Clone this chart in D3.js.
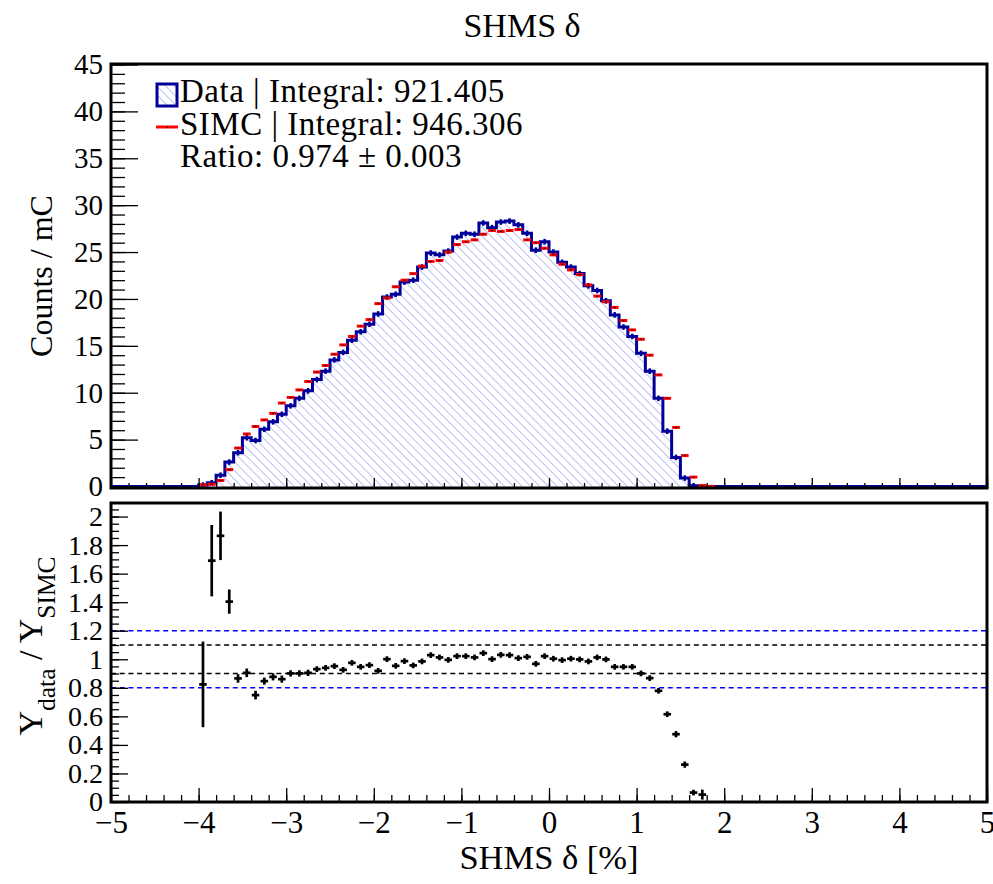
<!DOCTYPE html>
<html>
<head>
<meta charset="utf-8">
<script src="https://cdn.jsdelivr.net/npm/d3@7"></script>
<style>
  body { margin: 0; background: #fff; }
</style>
</head>
<body>
<script>
// histogram binning (0.1 wide bins between -5 and 5)
const binWidth = 0.1;
const firstFilledEdge = -4.0; // low edge of the first entry in the count arrays

// Data counts / mC, bins -3.95 ... 1.85
const dataCounts = [
  0.15, 0.4, 1.2, 2.6, 3.6, 5.2, 4.9, 6.1, 6.9, 7.7,
  8.6, 9.4, 10.2, 11.4, 12.3, 13.5, 14.3, 15.6, 16.5, 17.3,
  18.4, 20.2, 20.5, 21.8, 22.0, 23.4, 24.9, 24.7, 25.1, 26.6,
  27.0, 26.9, 28.1, 27.6, 28.2, 28.3, 27.9, 27.0, 25.2, 26.1,
  25.0, 23.9, 23.4, 22.7, 21.4, 20.9, 19.8, 18.3, 17.0, 16.0,
  14.2, 12.3, 9.4, 5.9, 3.1, 0.9, 0.07, 0.01, 0
];

// SIMC counts / mC, same bins
const simcCounts = [
  0.18, 0.24, 0.64, 1.8, 4.1, 5.6, 6.4, 7.1, 7.8, 8.9,
  9.5, 10.3, 11.2, 12.2, 12.9, 14.1, 15.1, 16.0, 17.1, 17.8,
  19.5, 20.1, 21.3, 22.0, 22.7, 23.5, 24.0, 24.1, 25.0, 25.8,
  26.1, 26.3, 26.9, 27.3, 27.2, 27.3, 27.4, 26.3, 26.0, 25.4,
  24.7, 23.7, 23.1, 22.6, 21.5, 20.3, 19.7, 19.1, 17.7, 16.7,
  15.7, 14.0, 11.9, 9.4, 6.3, 3.3, 1.0, 0.1, 0.02
];
const dataErr = 0.3;

// ratio Y_data / Y_SIMC, bins -3.95 ... 1.75
const ratioVals = [
  0.824, 1.691, 1.865, 1.404, 0.866, 0.905, 0.749, 0.847, 0.877, 0.861,
  0.901, 0.901, 0.905, 0.931, 0.940, 0.952, 0.926, 0.975, 0.947, 0.959,
  0.919, 1.001, 0.954, 0.987, 0.957, 0.985, 1.029, 1.013, 0.996, 1.022,
  1.022, 1.013, 1.043, 1.001, 1.031, 1.029, 1.008, 1.017, 0.968, 1.022,
  1.004, 0.994, 1.004, 0.999, 0.985, 1.013, 0.999, 0.947, 0.947, 0.947,
  0.901, 0.868, 0.779, 0.615, 0.475, 0.262, 0.066, 0.052
];
const ratioErr = [
  0.30, 0.25, 0.17, 0.085, 0.03, 0.03, 0.03, 0.025, 0.025, 0.025,
  0.022, 0.022, 0.022, 0.02, 0.02, 0.02, 0.02, 0.02, 0.02, 0.02,
  0.02, 0.02, 0.02, 0.02, 0.02, 0.02, 0.02, 0.02, 0.02, 0.02,
  0.02, 0.02, 0.02, 0.02, 0.02, 0.02, 0.02, 0.02, 0.02, 0.02,
  0.02, 0.02, 0.02, 0.02, 0.02, 0.02, 0.02, 0.02, 0.02, 0.02,
  0.02, 0.02, 0.02, 0.02, 0.022, 0.022, 0.02, 0.035
];

// ticks and reference lines
const xTicks = [-5, -4, -3, -2, -1, 0, 1, 2, 3, 4, 5];
const topYTicks = [0, 5, 10, 15, 20, 25, 30, 35, 40, 45];
const ratioYTicks = [0, 0.2, 0.4, 0.6, 0.8, 1, 1.2, 1.4, 1.6, 1.8, 2];
const refLines = [1.2, 1.1, 0.9, 0.8];
const refColors = ['#0000ff', '#000', '#000', '#0000ff'];

const legendLines = ['Data | Integral: 921.405', 'SIMC | Integral: 946.306', 'Ratio: 0.974 \u00b1 0.003'];

const W = 993, H = 884;
const left = 111, right = 987;
const topPad = { t: 64, b: 488 };
const botPad = { t: 503, b: 802 };
const dataBlue = '#000099';
const serif = '"Liberation Serif", Tinos, "Times New Roman", Times, "DejaVu Serif", serif';

const svg = d3.select('body').append('svg')
  .attr('width', W)
  .attr('height', H)
  .style('font-family', serif);

const defs = svg.append('defs');
const pat = defs.append('pattern')
  .attr('id', 'hatch')
  .attr('patternUnits', 'userSpaceOnUse')
  .attr('width', 6.2)
  .attr('height', 6.2)
  .attr('patternTransform', 'rotate(-45)');
pat.append('line')
  .attr('x1', 0).attr('y1', 0).attr('x2', 0).attr('y2', 6.2)
  .attr('stroke', '#9a9cf5')
  .attr('stroke-width', 1.3);

const x = d3.scaleLinear().domain([-5, 5]).range([left, right]);
const y = d3.scaleLinear().domain([0, 45]).range([topPad.b - 1.5, topPad.t + 0.5]);
const yr = d3.scaleLinear().domain([0, 2.095]).range([botPad.b, botPad.t]);

// expand to the full 100 bins
const edges = d3.range(101).map(i => -5 + i * binWidth);
const binIndex = e => Math.round((e - firstFilledEdge) / binWidth);
const fullData = edges.slice(0, 100).map(e => {
  const j = binIndex(e);
  return j >= 0 && j < dataCounts.length ? dataCounts[j] : 0;
});
const stepPts = edges.map((e, i) => [e, fullData[Math.min(i, 99)]]);

// ---------- top pad ----------
const topG = svg.append('g');

topG.append('path')
  .datum(stepPts)
  .attr('fill', 'url(#hatch)')
  .attr('d', d3.area().curve(d3.curveStepAfter)
    .x(d => x(d[0])).y0(y(0)).y1(d => y(d[1])));

topG.append('path')
  .datum(stepPts)
  .attr('fill', 'none')
  .attr('stroke', dataBlue)
  .attr('stroke-width', 3)
  .attr('d', d3.line().curve(d3.curveStepAfter).x(d => x(d[0])).y(d => y(d[1])));

const filled = dataCounts.map((c, j) => ({ c: c, s: simcCounts[j], x0: firstFilledEdge + j * binWidth }));

topG.selectAll('.derr')
  .data(filled.filter(d => d.c > 0.05))
  .enter()
  .append('line')
  .attr('x1', d => x(d.x0 + binWidth / 2))
  .attr('x2', d => x(d.x0 + binWidth / 2))
  .attr('y1', d => y(d.c + dataErr))
  .attr('y2', d => y(Math.max(0, d.c - dataErr)))
  .attr('stroke', dataBlue)
  .attr('stroke-width', 2.5);

topG.selectAll('.simc')
  .data(filled.filter(d => d.s > 0))
  .enter()
  .append('line')
  .attr('x1', d => x(d.x0) + 0.5)
  .attr('x2', d => x(d.x0 + binWidth) - 0.5)
  .attr('y1', d => y(d.s))
  .attr('y2', d => y(d.s))
  .attr('stroke', '#ff0000')
  .attr('stroke-width', 3);

topG.selectAll('.simcdot')
  .data(filled.filter(d => d.s > 0))
  .enter()
  .append('rect')
  .attr('x', d => x(d.x0 + binWidth / 2) - 1)
  .attr('y', d => y(d.s) - 0.5)
  .attr('width', 2)
  .attr('height', 1)
  .attr('fill', '#000');

// frame
topG.append('rect')
  .attr('x', left).attr('y', topPad.t)
  .attr('width', right - left).attr('height', topPad.b - topPad.t)
  .attr('fill', 'none').attr('stroke', '#000').attr('stroke-width', 3);

function styleAxis(g, size) {
  g.attr('font-family', null).style('font-family', serif);
  g.select('.domain').remove();
  g.selectAll('.tick line').attr('stroke', '#000').attr('stroke-width', 1.3);
  g.selectAll('.tick text').attr('font-size', size).attr('fill', '#000').style('font-family', serif);
}

topG.append('g')
  .attr('transform', `translate(0,${topPad.b})`)
  .call(d3.axisBottom(x).tickValues(xTicks).tickSize(-10).tickFormat(''))
  .call(g => styleAxis(g, 0));
topG.append('g')
  .attr('transform', `translate(0,${topPad.b})`)
  .call(d3.axisBottom(x).tickValues(d3.range(-50, 51, 2).map(v => v / 10)).tickSize(-5).tickFormat(''))
  .call(g => styleAxis(g, 0));
topG.append('g')
  .attr('transform', `translate(${left},0)`)
  .call(d3.axisLeft(y).tickValues(topYTicks).tickSize(-27).tickPadding(8))
  .call(g => styleAxis(g, 29));
topG.append('g')
  .attr('transform', `translate(${left},0)`)
  .call(d3.axisLeft(y).tickValues(d3.range(0, 46)).tickSize(-14).tickFormat(''))
  .call(g => styleAxis(g, 0));

topG.append('text')
  .attr('transform', 'translate(52,276) rotate(-90)')
  .attr('text-anchor', 'middle')
  .attr('font-size', 32)
  .style('font-family', serif)
  .text('Counts / mC');

// legend
const leg = topG.append('g');
leg.append('rect')
  .attr('x', 157).attr('y', 84).attr('width', 20).attr('height', 22)
  .attr('fill', 'url(#hatch)')
  .attr('stroke', dataBlue).attr('stroke-width', 3);
leg.append('line')
  .attr('x1', 156).attr('x2', 178).attr('y1', 127).attr('y2', 127)
  .attr('stroke', '#ff0000').attr('stroke-width', 3);
leg.append('rect')
  .attr('x', 166).attr('y', 126.5).attr('width', 2).attr('height', 1).attr('fill', '#000');
leg.selectAll('text')
  .data(legendLines)
  .enter()
  .append('text')
  .attr('x', 180)
  .attr('y', (d, i) => 102 + i * 32.5)
  .attr('font-size', 33)
  .attr('letter-spacing', 0.5)
  .style('font-family', serif)
  .text(d => d);

// title
svg.append('text')
  .attr('x', 522).attr('y', 37)
  .attr('text-anchor', 'middle')
  .attr('font-size', 34)
  .style('font-family', serif)
  .text('SHMS \u03b4');

// ---------- ratio pad ----------
const botG = svg.append('g');

botG.selectAll('.ref')
  .data(refLines)
  .enter()
  .append('line')
  .attr('x1', left).attr('x2', right)
  .attr('y1', d => yr(d)).attr('y2', d => yr(d))
  .attr('stroke', (d, i) => refColors[i])
  .attr('stroke-width', 1.5)
  .attr('stroke-dasharray', '5,3.7');

const ratioPts = ratioVals.map((r, j) => ({ r: r, e: ratioErr[j], x0: firstFilledEdge + j * binWidth }));

botG.selectAll('.rh')
  .data(ratioPts)
  .enter()
  .append('line')
  .attr('x1', d => x(d.x0) + 0.6)
  .attr('x2', d => x(d.x0 + binWidth) - 0.6)
  .attr('y1', d => yr(d.r))
  .attr('y2', d => yr(d.r))
  .attr('stroke', '#000')
  .attr('stroke-width', 2.7);

botG.selectAll('.rv')
  .data(ratioPts)
  .enter()
  .append('line')
  .attr('x1', d => x(d.x0 + binWidth / 2))
  .attr('x2', d => x(d.x0 + binWidth / 2))
  .attr('y1', d => yr(d.r + d.e))
  .attr('y2', d => yr(d.r - d.e))
  .attr('stroke', '#000')
  .attr('stroke-width', 2.7);

botG.append('rect')
  .attr('x', left).attr('y', botPad.t)
  .attr('width', right - left).attr('height', botPad.b - botPad.t)
  .attr('fill', 'none').attr('stroke', '#000').attr('stroke-width', 3);

botG.append('g')
  .attr('transform', `translate(0,${botPad.b})`)
  .call(d3.axisBottom(x).tickValues(xTicks).tickSize(-14).tickPadding(9))
  .call(g => styleAxis(g, 31));
botG.append('g')
  .attr('transform', `translate(0,${botPad.b})`)
  .call(d3.axisBottom(x).tickValues(d3.range(-50, 51, 2).map(v => v / 10)).tickSize(-7).tickFormat(''))
  .call(g => styleAxis(g, 0));
botG.append('g')
  .attr('transform', `translate(${left},0)`)
  .call(d3.axisLeft(yr).tickValues(ratioYTicks).tickSize(-17).tickPadding(8).tickFormat(d3.format('~g')))
  .call(g => styleAxis(g, 28));
botG.append('g')
  .attr('transform', `translate(${left},0)`)
  .call(d3.axisLeft(yr).tickValues(d3.range(0, 42).map(v => v / 20)).tickSize(-8).tickFormat(''))
  .call(g => styleAxis(g, 0));

const yLab = botG.append('text')
  .attr('transform', 'translate(42,646) rotate(-90)')
  .attr('text-anchor', 'middle')
  .attr('font-size', 34)
  .style('font-family', serif);
yLab.append('tspan').text('Y');
yLab.append('tspan').attr('font-size', 25.5).attr('dy', 13).text('data');
yLab.append('tspan').attr('dy', -13).text(' / Y');
yLab.append('tspan').attr('font-size', 25.5).attr('dy', 13).text('SIMC');

svg.append('text')
  .attr('x', 549).attr('y', 869)
  .attr('text-anchor', 'middle')
  .attr('font-size', 34.5)
  .style('font-family', serif)
  .text('SHMS \u03b4 [%]');
</script>
</body>
</html>
